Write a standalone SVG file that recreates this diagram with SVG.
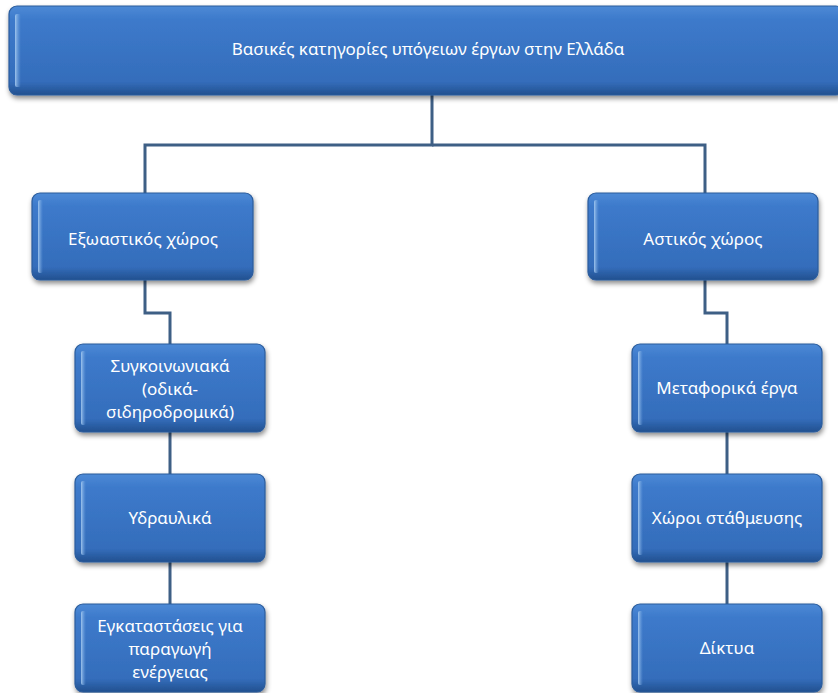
<svg xmlns="http://www.w3.org/2000/svg" width="838" height="693" viewBox="0 0 838 693">
<defs>
<linearGradient id="g" x1="0" y1="0" x2="0" y2="1">
<stop offset="0" stop-color="#4d8ad6"/>
<stop offset="0.15" stop-color="#3d7acb"/>
<stop offset="0.85" stop-color="#346dbb"/>
<stop offset="1" stop-color="#22508f"/>
</linearGradient>
<linearGradient id="hl" x1="0" y1="0" x2="1" y2="0">
<stop offset="0" stop-color="#a9cdf2" stop-opacity="0.9"/>
<stop offset="1" stop-color="#6fa3e0" stop-opacity="0"/>
</linearGradient>
<filter id="sh" x="-10%" y="-10%" width="120%" height="130%">
<feDropShadow dx="1" dy="3" stdDeviation="2.5" flood-color="#000" flood-opacity="0.45"/>
</filter>
<style>
.box{fill:url(#g);stroke:#2b5c9c;stroke-width:1.2;filter:url(#sh)}
.edge{fill:url(#hl)}
.t{font-family:"Noto Sans","Open Sans",sans-serif;font-size:17px;fill:#ffffff;text-anchor:middle}
.c{fill:none;stroke:#3e5f85;stroke-width:3}
</style>
</defs>
<rect width="838" height="693" fill="#ffffff"/>
<g id="connectors">
<path class="c" d="M432 95 V145 H145 V193"/>
<path class="c" d="M432 145 H705 V193"/>
<path class="c" d="M145 280 V313 H170 V344"/>
<path class="c" d="M705 280 V313 H727 V344"/>
<path class="c" d="M170 432 V474 M170 562 V604"/>
<path class="c" d="M727 432 V474 M727 562 V604"/>
</g>
<g id="root">
<rect class="box" x="9" y="6" width="835" height="89" rx="8"/>
<rect class="edge" x="15" y="14" width="6" height="73" rx="2"/>
<text class="t" x="428" y="55">Βασικές κατηγορίες υπόγειων έργων στην Ελλάδα</text>
</g>
<g id="exo">
<rect class="box" x="32" y="193" width="221" height="87" rx="8"/>
<rect class="edge" x="38" y="200" width="5" height="73" rx="2"/>
<text class="t" x="143" y="245">Εξωαστικός χώρος</text>
</g>
<g id="astikos">
<rect class="box" x="588" y="193" width="230" height="87" rx="8"/>
<rect class="edge" x="594" y="200" width="5" height="73" rx="2"/>
<text class="t" x="703" y="245">Αστικός χώρος</text>
</g>
<g id="sygk">
<rect class="box" x="75" y="344" width="190" height="88" rx="8"/>
<rect class="edge" x="81" y="351" width="5" height="74" rx="2"/>
<text class="t" x="170" y="372">Συγκοινωνιακά</text>
<text class="t" x="170" y="395">(οδικά-</text>
<text class="t" x="170" y="418">σιδηροδρομικά)</text>
</g>
<g id="ydr">
<rect class="box" x="75" y="474" width="190" height="88" rx="8"/>
<rect class="edge" x="81" y="481" width="5" height="74" rx="2"/>
<text class="t" x="170" y="524">Υδραυλικά</text>
</g>
<g id="egk">
<rect class="box" x="75" y="604" width="190" height="88" rx="8"/>
<rect class="edge" x="81" y="611" width="5" height="74" rx="2"/>
<text class="t" x="170" y="632">Εγκαταστάσεις για</text>
<text class="t" x="170" y="655">παραγωγή</text>
<text class="t" x="170" y="678">ενέργειας</text>
</g>
<g id="metaf">
<rect class="box" x="632" y="344" width="190" height="88" rx="8"/>
<rect class="edge" x="638" y="351" width="5" height="74" rx="2"/>
<text class="t" x="727" y="394">Μεταφορικά έργα</text>
</g>
<g id="xoroi">
<rect class="box" x="632" y="474" width="190" height="88" rx="8"/>
<rect class="edge" x="638" y="481" width="5" height="74" rx="2"/>
<text class="t" x="727" y="524">Χώροι στάθμευσης</text>
</g>
<g id="diktya">
<rect class="box" x="632" y="604" width="190" height="88" rx="8"/>
<rect class="edge" x="638" y="611" width="5" height="74" rx="2"/>
<text class="t" x="727" y="654">Δίκτυα</text>
</g>
</svg>
